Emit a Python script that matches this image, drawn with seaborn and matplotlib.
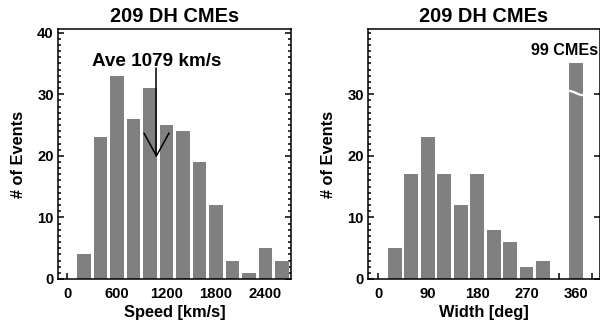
import numpy as np
import seaborn as sns
import matplotlib.pyplot as plt
from matplotlib.ticker import MultipleLocator

# CME speed histogram (bin centres, km/s)
speed_bins = [200, 400, 600, 800, 1000, 1200, 1400, 1600, 1800, 2000, 2200, 2400, 2600]
speed_counts = [4, 23, 33, 26, 31, 25, 24, 19, 12, 3, 1, 5, 3]
ave_speed = 1079

# CME width histogram (bin centres, deg) - last bin is the halo CMEs
width_bins = [30, 60, 90, 120, 150, 180, 210, 240, 270, 300, 330, 360]
width_counts = [5, 17, 23, 17, 12, 17, 8, 6, 2, 3, 0, 99]
width_cap = 35  # tall bar is drawn broken at this height

n_events = sum(speed_counts)
bar_grey = '#808080'

sns.set_style('ticks')
plt.rcParams['font.family'] = ['Liberation Sans', 'DejaVu Sans']
plt.rcParams['font.weight'] = 'bold'
plt.rcParams['axes.labelweight'] = 'bold'
plt.rcParams['axes.titleweight'] = 'bold'
plt.rcParams['axes.linewidth'] = 1.1
for key in ['text.color', 'axes.labelcolor', 'xtick.color', 'ytick.color',
            'axes.edgecolor']:
    plt.rcParams[key] = 'black'

fig = plt.figure(figsize=(6, 3.25), dpi=100)
ax1 = fig.add_axes([58 / 600, 1 - 279 / 325, 233 / 600, 250 / 325])
ax2 = fig.add_axes([368 / 600, 1 - 279 / 325, 232 / 600, 250 / 325])


def style_axis(ax, xlim, xmajor, xminor, xlabel, yticks):
    ax.set_xlim(*xlim)
    ax.set_ylim(0, 40.6)
    ax.xaxis.set_major_locator(MultipleLocator(xmajor))
    ax.xaxis.set_minor_locator(MultipleLocator(xminor))
    ax.set_yticks(yticks)
    ax.yaxis.set_minor_locator(MultipleLocator(1))
    ax.tick_params(which='both', direction='in', left=True, right=True,
                   top=False, bottom=True, labelsize=10.7, width=1.1)
    ax.tick_params(axis='y', which='major', length=4.5, pad=3)
    ax.tick_params(axis='y', which='minor', length=2.2)
    ax.tick_params(axis='x', which='both', length=4, pad=6)
    ax.set_title(f'{n_events} DH CMEs', fontsize=14.4, pad=5)
    ax.set_xlabel(xlabel, fontsize=11.8)
    ax.set_ylabel('# of Events', fontsize=11.8)
    ax.yaxis.set_label_coords(-0.136, 0.5)
    ax.xaxis.set_label_coords(0.5, -0.104)
    for s in ax.spines.values():
        s.set_color('black')
        s.set_linewidth(1.1)


# left: speed
sns.barplot(x=speed_bins, y=speed_counts, native_scale=True, width=0.81,
            color=bar_grey, saturation=1, errorbar=None, linewidth=0, ax=ax1)
style_axis(ax1, (-115, 2710), 600, 200, 'Speed [km/s]', [0, 10, 20, 30, 40])

ax1.plot([ave_speed, ave_speed], [34.2, 20], color='black', lw=1.1)
ax1.plot([ave_speed - 152, ave_speed, ave_speed + 152], [23.7, 20, 23.7],
         color='black', lw=1.1)
ax1.text(ave_speed, 34.6, f'Ave {ave_speed} km/s', ha='center', va='baseline',
         fontsize=13.6, fontweight='bold')

# right: width
shown = np.minimum(width_counts, width_cap)
sns.barplot(x=width_bins, y=shown, native_scale=True, width=0.85,
            color=bar_grey, saturation=1, errorbar=None, linewidth=0, ax=ax2)
style_axis(ax2, (-19, 404), 90, 30, 'Width [deg]', [0, 10, 20, 30])
ax2.tick_params(axis='y', which='minor', right=False)

# break mark across the capped bar
halo_x = width_bins[-1]
t = np.linspace(0, 1, 40)
bw = 0.85 * 30
ax2.plot(halo_x - bw / 2 - 1 + (bw + 2) * t, 30.2 + 0.35 * np.cos(np.pi * t),
         color='white', lw=1.6, solid_capstyle='butt')
ax2.text(halo_x - 20, 36.4, f'{width_counts[-1]} CMEs', ha='center',
         va='baseline', fontsize=11.6, fontweight='bold', clip_on=False)

fig.savefig('out.png', dpi=100)
